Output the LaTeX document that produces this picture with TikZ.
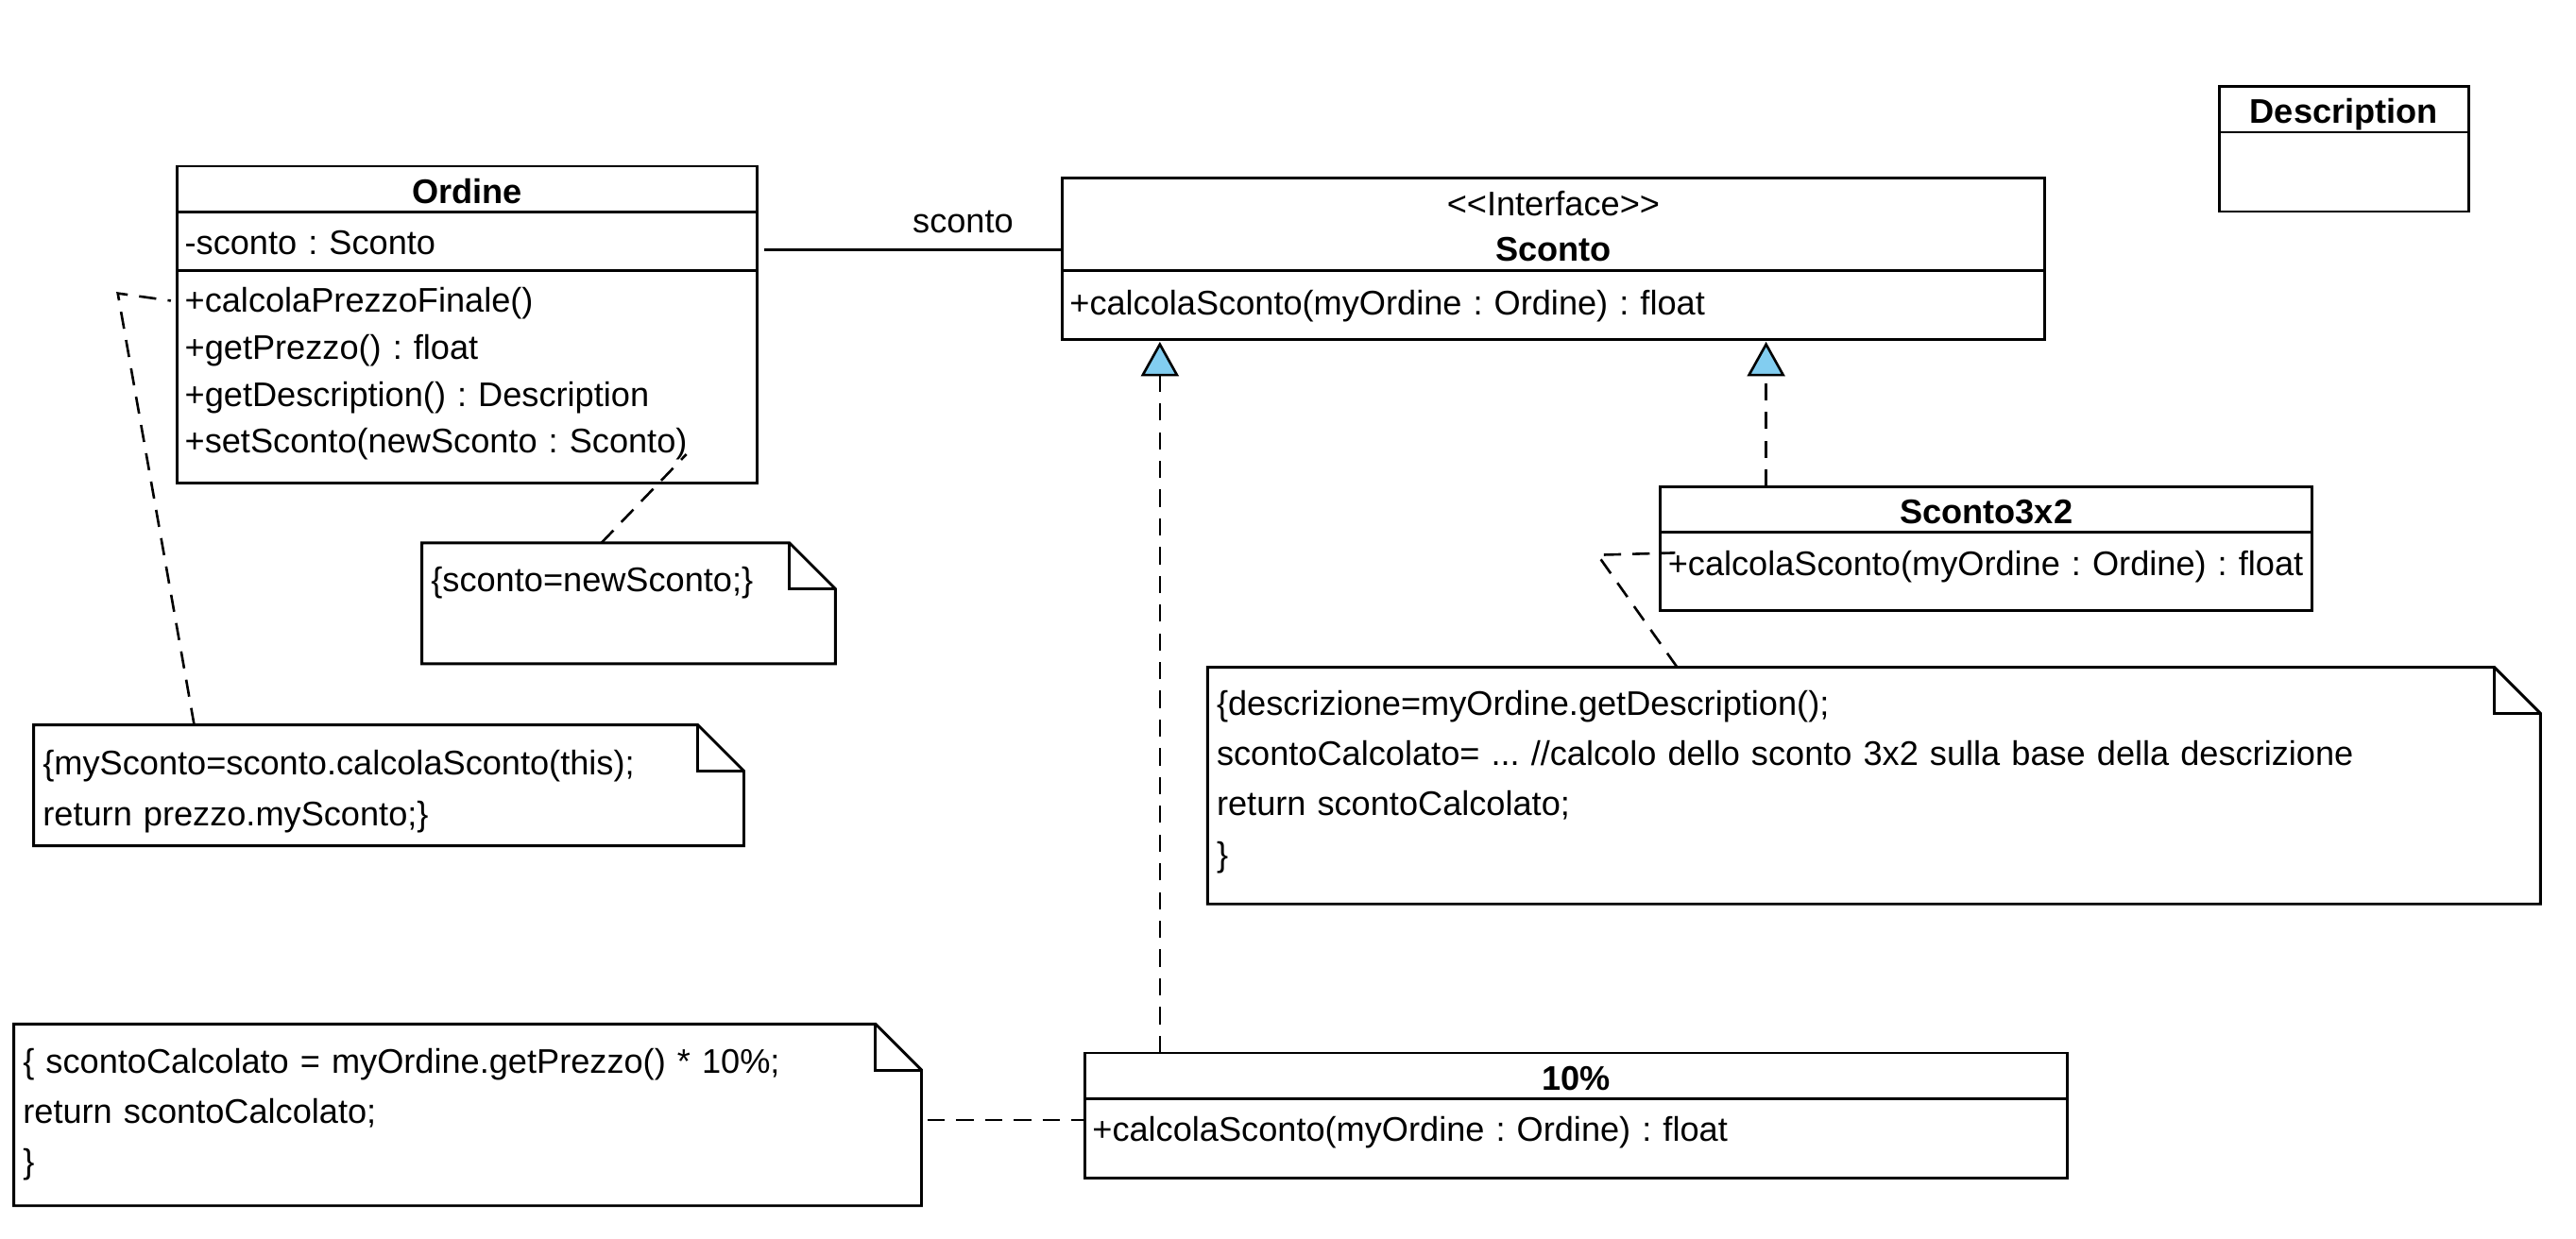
\documentclass[tikz,border=0pt]{standalone}
\usepackage{fontspec}
\setmainfont{Liberation Sans}
\usetikzlibrary{positioning,calc,arrows.meta}
\definecolor{realizeblue}{RGB}{130,205,240}

\tikzset{
    umlfont/.style={font=\fontsize{20.8}{28.6}\selectfont\frenchspacing},
    classpart/.style={draw, line width=1.7pt, fill=white, inner xsep=4.5pt, inner ysep=0pt, outer sep=0pt, align=left, umlfont},
    classtitle/.style={classpart, align=center, font=\fontsize{20.8}{27.6}\selectfont\bfseries, text height=22.6pt, text depth=5.2pt},
    notetext/.style={inner xsep=5.6pt, inner ysep=0pt, outer sep=0pt, align=left, anchor=north west, font=\fontsize{20.8}{30.6}\selectfont\frenchspacing},
    noteline/.style={line width=1.7pt, line join=miter},
    anchorline/.style={line width=1.5pt, dash pattern=on 10.5pt off 7pt},
    realize/.style={line width=1.5pt, dash pattern=on 10.5pt off 7pt, shorten >=1.5pt, -{Triangle[length=21pt, width=23pt, fill=realizeblue]}},
    assoc/.style={line width=1.7pt}
}

\begin{document}
\begin{tikzpicture}[x=1pt, y=-1pt]
    \path[fill=white] (0,0) rectangle (1568,754);

    % classes
    \node[classtitle, anchor=north west, text width=344pt] (ordineT) at (108,101.2) {Ordine};
    \node[classpart, below=0pt of ordineT, text width=344pt, text height=26pt, text depth=9.6pt] (ordineA) {-sconto : Sconto};
    \node[classpart, below=0pt of ordineA, text width=344pt, text height=25.5pt, text depth=104.1pt] (ordineM)
        {+calcolaPrezzoFinale()\\+getPrezzo() : float\\+getDescription() : Description\\+setSconto(newSconto : Sconto)};

    \node[classpart, anchor=north west, align=center, font=\fontsize{20.8}{27.6}\selectfont, text width=588.8pt, text height=23.1pt, text depth=33.3pt] (scontoT) at (646.6,108.2)
        {<\kern0pt<Interface>\kern0pt>\\\textbf{Sconto}};
    \node[classpart, below=0pt of scontoT, text width=588.8pt, text height=27.3pt, text depth=14.7pt] (scontoM) {+calcolaSconto(myOrdine : Ordine) : float};

    \node[classtitle, anchor=north west, text width=387.4pt] (s3T) at (1010.8,296.3) {Sconto3x2};
    \node[classpart, below=0pt of s3T, text width=387.4pt, text height=26.4pt, text depth=21.5pt] (s3M) {+calcolaSconto(myOrdine : Ordine) : float};

    \node[classtitle, anchor=north west, text width=589pt] (tenT) at (660.4,641.1) {10\%};
    \node[classpart, below=0pt of tenT, text width=589pt, text height=26.1pt, text depth=22.2pt] (tenM) {+calcolaSconto(myOrdine : Ordine) : float};

    \node[classtitle, anchor=north west, text width=142.8pt] (descT) at (1350.8,52.7) {Description};
    \node[classpart, below=0pt of descT, text width=142.8pt, text height=24pt, text depth=24.3pt] (descB) {};

    % notes
    \node[notetext, text width=240.5pt, text height=29.7pt, text depth=44pt] (note1) at (256.8,330.5) {\{sconto=newSconto;\}};
    \node[notetext, text width=421.1pt, text height=30.6pt, text depth=43pt] (note2) at (20.5,441.4)
        {\{mySconto=sconto.calcolaSconto(this);\\return prezzo.mySconto;\}};
    \node[notetext, text width=800.1pt, text height=29.2pt, text depth=114.9pt] (note3) at (735,406.3)
        {\{descrizione=myOrdine.getDescription();\\scontoCalcolato= ... //calcolo dello sconto 3x2 sulla base della descrizione\\return scontoCalcolato;\\\}};
    \node[notetext, text width=541.3pt, text height=30pt, text depth=80.6pt] (note4) at (8.4,623.5)
        {\{ scontoCalcolato = myOrdine.getPrezzo() * 10\%;\\return scontoCalcolato;\\\}};

    \foreach \n in {note1,note2,note3,note4} {
        \draw[noteline] (\n.north west) -- ([xshift=-28pt]\n.north east) -- ([yshift=-28pt]\n.north east) -- (\n.south east) -- (\n.south west) -- cycle;
        \draw[noteline] ([xshift=-28pt]\n.north east) |- ([yshift=-28pt]\n.north east);
    }

    % association
    \coordinate (assocStart) at ([shift={(4.2pt,-5.2pt)}]ordineA.east);
    \draw[assoc] (assocStart) -- (assocStart -| scontoT.west)
        node[pos=0.667, above=9.4pt, inner sep=0pt, umlfont] (assocLabel) {sconto};

    % realizations
    \coordinate (tenUp) at ([xshift=45.6pt]tenT.north west);
    \coordinate (s3Up) at ([xshift=64.2pt]s3T.north west);
    \draw[realize] (tenUp) -- (tenUp |- scontoM.south);
    \draw[realize] (s3Up) -- (s3Up |- scontoM.south);

    % note anchors
    \draw[anchorline] ([xshift=109.3pt]note1.north west) -- ([shift={(309.8pt,-112pt)}]ordineM.north west);
    \draw[anchorline] ([xshift=97.7pt]note2.north west) -- ([shift={(-36.3pt,-14pt)}]ordineM.north west) -- ([shift={(-4pt,-18.5pt)}]ordineM.north west);
    \draw[anchorline] ([xshift=285.9pt]note3.north west) -- ([shift={(-38.3pt,-13.8pt)}]s3M.north west) -- ([shift={(8.9pt,-12.5pt)}]s3M.north west);
    \coordinate (tenLeft) at ([shift={(-1pt,-13pt)}]tenM.north west);
    \draw[anchorline, shorten <=3.7pt] (tenLeft -| note4.east) -- (tenLeft);
\end{tikzpicture}
\end{document}
